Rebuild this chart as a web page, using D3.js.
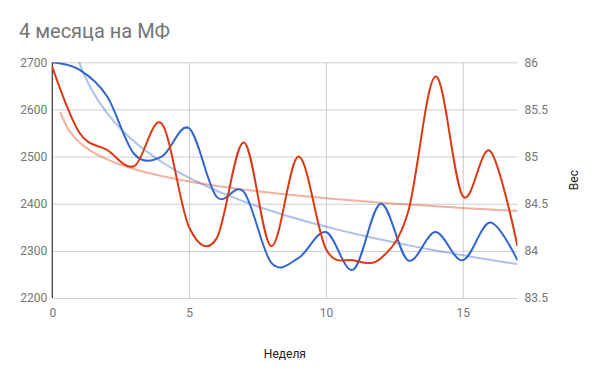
<!DOCTYPE html>
<html>
<head>
<meta charset="utf-8">
<script src="https://cdn.jsdelivr.net/npm/d3@7"></script>
<style>
  body { margin: 0; background: #fff; }
  svg { display: block; font-family: Roboto, Arial, sans-serif; }
</style>
</head>
<body>
<svg id="chart"></svg>
<script>
// weekly values
const weeks = [0, 1, 2, 3, 4, 5, 6, 7, 8, 9, 10, 11, 12, 13, 14, 15, 16, 17];
const calories = [2700, 2684, 2628, 2505, 2500, 2560, 2415, 2425, 2275, 2285, 2340, 2260, 2400, 2280, 2340, 2280, 2360, 2280];
const weight = [85.95, 85.25, 85.07, 84.9, 85.35, 84.25, 84.13, 85.15, 84.05, 85.0, 84.02, 83.9, 83.92, 84.41, 85.85, 84.58, 85.06, 84.05];

const leftTicks = [2200, 2300, 2400, 2500, 2600, 2700];
const rightTicks = [83.5, 84, 84.5, 85, 85.5, 86];
const xTicks = [0, 5, 10, 15];

const W = 600, H = 371;
const margin = { top: 62.3, left: 52.3, right: 82.5, bottom: 73 };
const width = W - margin.left - margin.right;
const height = H - margin.top - margin.bottom;

const blue = '#3366cc', red = '#dc3912';

const svg = d3.select('#chart').attr('width', W).attr('height', H);

svg.append('text')
    .attr('x', 19).attr('y', 38)
    .attr('font-size', 20)
    .attr('fill', '#757575')
    .text('4 месяца на МФ');

const g = svg.append('g')
    .attr('transform', `translate(${margin.left},${margin.top})`);

const x = d3.scaleLinear().domain([0, 17]).range([0, width]);
const yL = d3.scaleLinear().domain([2200, 2700]).range([height, 0]);
const yR = d3.scaleLinear().domain([83.5, 86]).range([height, 0]);

// horizontal grid
g.append('g')
    .call(d3.axisLeft(yL).tickValues(leftTicks).tickSize(-width).tickFormat(''))
    .call(a => a.select('.domain').remove())
    .call(a => a.selectAll('line').attr('stroke', '#cccccc'));

// vertical grid
g.append('g')
    .attr('transform', `translate(0,${height})`)
    .call(d3.axisBottom(x).tickValues(xTicks.slice(1)).tickSize(-height).tickFormat(''))
    .call(a => a.select('.domain').remove())
    .call(a => a.selectAll('line').attr('stroke', '#cccccc'));

// tick labels
const labelStyle = a => a.selectAll('text').attr('fill', '#757575').attr('font-size', 12)
    .attr('font-family', 'Roboto, Arial, sans-serif');

g.append('g')
    .call(d3.axisLeft(yL).tickValues(leftTicks).tickSize(0).tickPadding(5)
        .tickFormat(d3.format('d')))
    .call(a => a.select('.domain').remove())
    .call(labelStyle);

g.append('g')
    .attr('transform', `translate(${width},0)`)
    .call(d3.axisRight(yR).tickValues(rightTicks).tickSize(0).tickPadding(7)
        .tickFormat(d3.format('')))
    .call(a => a.select('.domain').remove())
    .call(labelStyle);

g.append('g')
    .attr('transform', `translate(0,${height})`)
    .call(d3.axisBottom(x).tickValues(xTicks).tickSize(0).tickPadding(10))
    .call(a => a.select('.domain').remove())
    .call(labelStyle);

// baseline at week 0
g.append('line')
    .attr('x1', x(0)).attr('x2', x(0))
    .attr('y1', 0).attr('y2', height)
    .attr('stroke', '#333').attr('stroke-width', 1.2);

// log trendlines computed from the series (week 0 skipped, ln(0) undefined)
function logFit(xs, ys) {
    const pts = xs.map((v, i) => [Math.log(v), ys[i]]).filter(p => isFinite(p[0]));
    const mx = d3.mean(pts, p => p[0]), my = d3.mean(pts, p => p[1]);
    const sxy = d3.sum(pts, p => (p[0] - mx) * (p[1] - my));
    const sxx = d3.sum(pts, p => (p[0] - mx) ** 2);
    const a = sxy / sxx;
    return t => a * Math.log(t) + (my - a * mx);
}

const samples = d3.range(1, 61).map(i => 17 * i / 60);

g.append('clipPath').attr('id', 'clip')
    .append('rect').attr('width', width).attr('height', height);

const plot = g.append('g').attr('clip-path', 'url(#clip)');

const calFit = logFit(weeks, calories);
const wFit = logFit(weeks, weight);

plot.append('path')
    .datum(samples)
    .attr('fill', 'none').attr('stroke', blue).attr('stroke-opacity', 0.4)
    .attr('stroke-width', 2)
    .attr('d', d3.line().x(d => x(d)).y(d => yL(calFit(d))));

plot.append('path')
    .datum(samples)
    .attr('fill', 'none').attr('stroke', red).attr('stroke-opacity', 0.4)
    .attr('stroke-width', 2)
    .attr('d', d3.line().x(d => x(d)).y(d => yR(wFit(d))));

// series
plot.append('path')
    .datum(weeks)
    .attr('fill', 'none').attr('stroke', blue).attr('stroke-width', 2)
    .attr('d', d3.line().curve(d3.curveCardinal).x(d => x(d)).y((d, i) => yL(calories[i])));

plot.append('path')
    .datum(weeks)
    .attr('fill', 'none').attr('stroke', red).attr('stroke-width', 2)
    .attr('d', d3.line().curve(d3.curveCardinal).x(d => x(d)).y((d, i) => yR(weight[i])));

// axis titles
svg.append('text')
    .attr('x', margin.left + width / 2).attr('y', 358)
    .attr('text-anchor', 'middle').attr('font-size', 12).attr('fill', '#222')
    .text('Неделя');

svg.append('text')
    .attr('transform', `translate(578,${margin.top + height / 2}) rotate(-90)`)
    .attr('text-anchor', 'middle').attr('font-size', 12).attr('fill', '#222')
    .text('Вес');
</script>
</body>
</html>
